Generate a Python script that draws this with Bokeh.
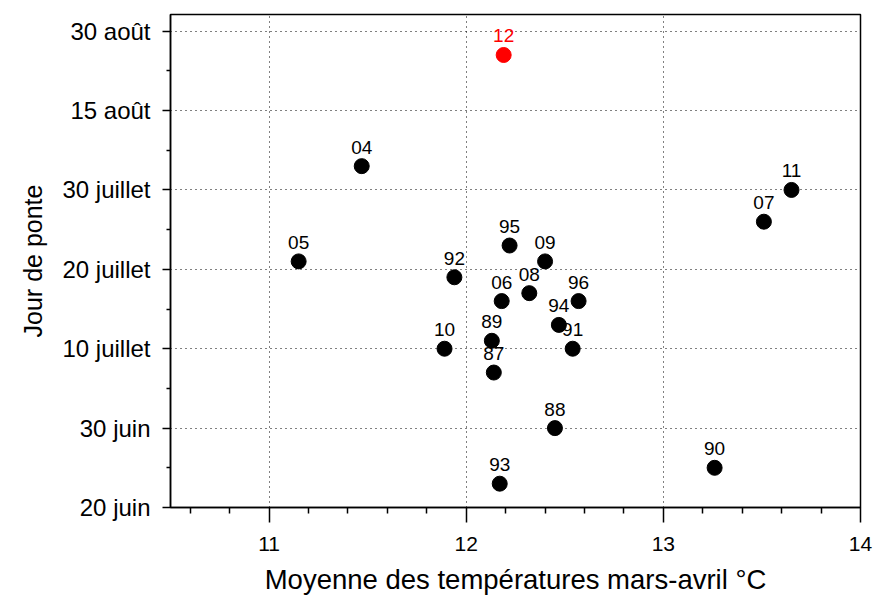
from bokeh.plotting import figure
from bokeh.models import ColumnDataSource, Range1d, FixedTicker
from bokeh.core.properties import value
from bokeh.embed import file_html
from bokeh.resources import INLINE

# Laying date (days after 20 June) against mean March-April temperature
years = ["87", "88", "89", "90", "91", "92", "93", "94", "95", "96",
         "04", "05", "06", "07", "08", "09", "10", "11", "12"]
temperature = [12.14, 12.45, 12.13, 13.26, 12.54, 11.94, 12.17, 12.47, 12.22, 12.57,
               11.47, 11.15, 12.18, 13.51, 12.32, 12.40, 11.89, 13.65, 12.19]
laying_day = [17, 10, 21, 5, 20, 29, 3, 23, 33, 26,
              43, 31, 26, 36, 27, 31, 20, 40, 57]

x_ticks = [11, 12, 13, 14]
y_ticks = [0, 10, 20, 30, 40, 50, 60]
y_tick_labels = ["20 juin", "30 juin", "10 juillet", "20 juillet",
                 "30 juillet", "15 août", "30 août"]
highlight_year = "12"

FONT = "Liberation Sans"

source = ColumnDataSource(data=dict(
    x=temperature,
    y=laying_day,
    label=years,
    color=["#ff0000" if yr == highlight_year else "#000000" for yr in years],
))

p = figure(width=874, height=599, output_backend="svg", toolbar_location=None,
           x_range=Range1d(10.5, 14), y_range=Range1d(0, 62.1),
           min_border_left=170, min_border_right=14, min_border_top=14,
           min_border_bottom=92)

p.background_fill_color = "white"
p.border_fill_color = "white"
p.outline_line_color = "black"
p.outline_line_width = 1.5

p.scatter("x", "y", source=source, size=15, fill_color="color",
          line_color="color")
p.text("x", "y", text="label", source=source, text_color="color",
       text_align="center", text_baseline="middle", y_offset=-19,
       text_font=value(FONT), text_font_size="19px")

# axes
p.xaxis.ticker = FixedTicker(ticks=x_ticks,
                             minor_ticks=[10.6, 10.8, 11.2, 11.4, 11.6, 11.8,
                                          12.2, 12.4, 12.6, 12.8, 13.2, 13.4,
                                          13.6, 13.8])
p.yaxis.ticker = FixedTicker(ticks=y_ticks,
                             minor_ticks=[5, 15, 25, 35, 45, 55])
p.yaxis.major_label_overrides = {t: lab for t, lab in zip(y_ticks, y_tick_labels)}

p.xaxis.axis_label = "Moyenne des températures mars-avril °C"
p.yaxis.axis_label = "Jour de ponte"

for ax in (p.xaxis, p.yaxis):
    ax.axis_line_color = "black"
    ax.axis_line_width = 1.5
    ax.major_tick_line_color = "black"
    ax.major_tick_line_width = 1.5
    ax.minor_tick_line_color = "black"
    ax.minor_tick_line_width = 1.5
    ax.major_tick_in = 0
    ax.minor_tick_in = 0
    ax.major_label_text_color = "black"
    ax.major_label_text_font = FONT
    ax.axis_label_text_color = "black"
    ax.axis_label_text_font = FONT
    ax.axis_label_text_font_style = "normal"

p.xaxis.major_tick_out = 15
p.xaxis.minor_tick_out = 6
p.xaxis.major_label_text_font_size = "21px"
p.xaxis.major_label_standoff = 14
p.xaxis.axis_label_text_font_size = "27.5px"
p.xaxis.axis_label_standoff = 10

p.yaxis.major_tick_out = 8
p.yaxis.minor_tick_out = 4
p.yaxis.major_label_text_font_size = "24px"
p.yaxis.major_label_standoff = 12
p.yaxis.axis_label_text_font_size = "25px"
p.yaxis.axis_label_standoff = 12

# dotted grid at the major ticks
for g in (p.xgrid, p.ygrid):
    g.grid_line_color = "black"
    g.grid_line_width = 1
    g.grid_line_dash = "1 4"
p.xgrid.ticker = FixedTicker(ticks=[11, 12, 13])
p.ygrid.ticker = FixedTicker(ticks=[10, 20, 30, 40, 50, 60])

open("out.html", "w").write(file_html(p, INLINE))
